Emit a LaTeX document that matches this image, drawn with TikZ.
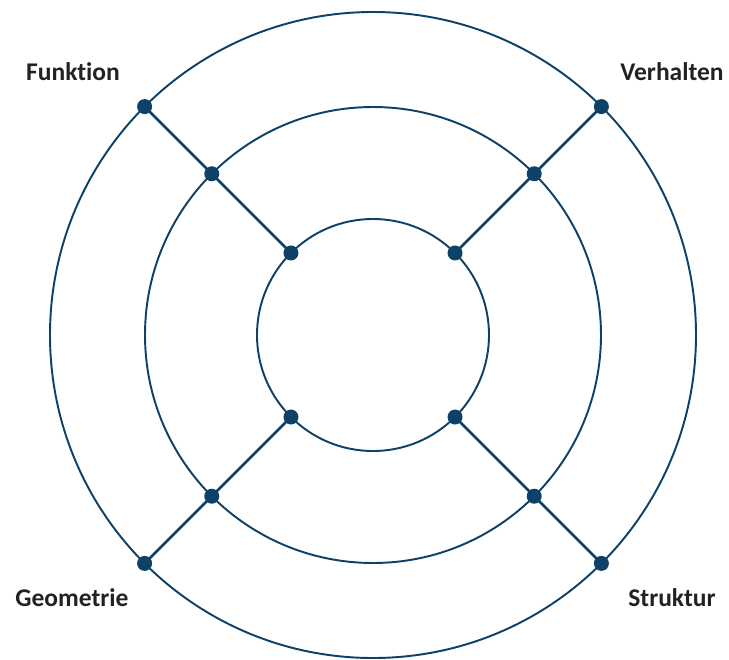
\documentclass[tikz,border=0pt]{standalone}
\usepackage{fontspec}
\setmainfont[Ligatures=NoCommon]{Carlito}
\usepackage{xcolor}
\usepackage{tikz}
\usetikzlibrary{positioning,calc}
\definecolor{ringblue}{HTML}{0D4168}
\definecolor{labelgray}{HTML}{222222}

\begin{document}
\begin{tikzpicture}[
		ring/.style={draw=ringblue,line width=1.1pt},
		spoke/.style={draw=ringblue,line width=1.5pt},
		dot/.style={circle,fill=ringblue,inner sep=0pt,minimum size=0.3cm},
		lbl/.style={text=labelgray,font=\fontsize{14.5}{17}\selectfont\bfseries}
		]
		\useasboundingbox (-7.46,-6.48) rectangle (7.12,6.70);
		\coordinate (c) at (0,0);
		\draw[ring] (c) circle[radius=6.46cm];
		\draw[ring] (c) circle[radius=4.56cm];
		\draw[ring] (c) circle[radius=2.32cm];
		\foreach \a/\n in {135/fu,45/ve,225/ge,315/st}{
			\node[dot] (\n1) at (\a:2.32) {};
			\node[dot] (\n2) at (\a:4.56) {};
			\node[dot] (\n3) at (\a:6.46) {};
			\draw[spoke] (\n1.center)--(\n2.center)--(\n3.center);
		}
		\node[lbl] (funktion) at (-6.00,5.26) {Funktion};
		\node[lbl] (verhalten) at (5.98,5.26) {Verhalten};
		\node[lbl] (geometrie) at (-6.02,-5.26) {Geometrie};
		\node[lbl] (struktur) at (5.98,-5.26) {Struktur};
	\end{tikzpicture}
\end{document}
